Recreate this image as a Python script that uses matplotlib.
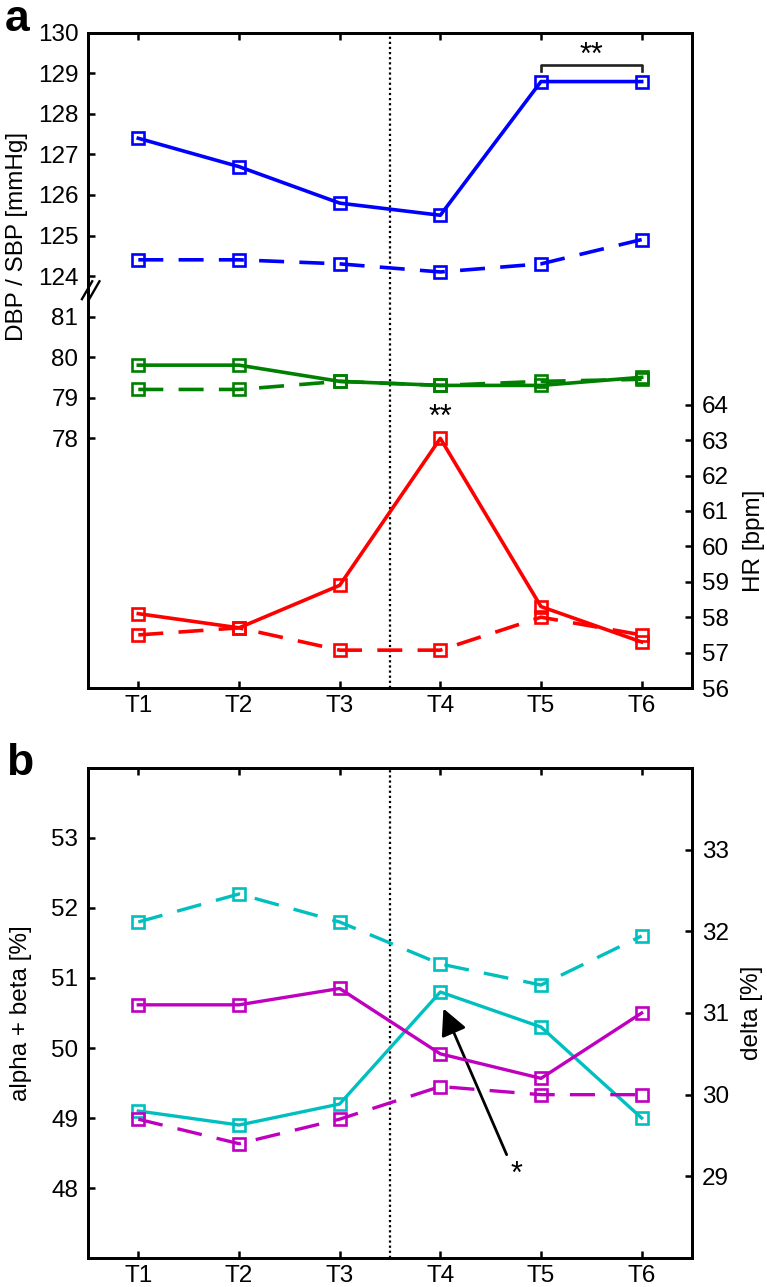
import matplotlib
matplotlib.use("Agg")
import matplotlib.pyplot as plt
import numpy as np

plt.rcParams["font.family"] = ["Liberation Sans", "DejaVu Sans"]
plt.rcParams["font.size"] = 17.5

# --- data ---
time_labels = ["T1", "T2", "T3", "T4", "T5", "T6"]

sbp_solid = [127.4, 126.7, 125.8, 125.5, 128.8, 128.8]
sbp_dashed = [124.4, 124.4, 124.3, 124.1, 124.3, 124.9]
dbp_solid = [79.8, 79.8, 79.4, 79.3, 79.3, 79.5]
dbp_dashed = [79.2, 79.2, 79.4, 79.3, 79.4, 79.45]
hr_solid = [58.1, 57.7, 58.9, 63.05, 58.3, 57.3]
hr_dashed = [57.5, 57.7, 57.07, 57.07, 58.0, 57.5]

ab_solid = [49.1, 48.9, 49.2, 50.8, 50.3, 49.0]
ab_dashed = [51.8, 52.2, 51.8, 51.2, 50.9, 51.6]
delta_solid = [31.1, 31.1, 31.3, 30.5, 30.2, 31.0]
delta_dashed = [29.7, 29.4, 29.7, 30.1, 30.0, 30.0]

dbp_ticks = [78, 79, 80, 81]
sbp_ticks = [124, 125, 126, 127, 128, 129, 130]
hr_ticks = [56, 57, 58, 59, 60, 61, 62, 63, 64]
ab_ticks = [48, 49, 50, 51, 52, 53]
delta_ticks = [29, 30, 31, 32, 33]

# SBP is drawn on the same axis as DBP, shifted down so 124 sits just above 81
SBP_SHIFT = 124 - 82

BLUE, GREEN, RED = "#0000FF", "#008000", "#FF0000"
CYAN, MAGENTA = "#00BFBF", "#BF00BF"
x = np.arange(1, len(time_labels) + 1)


def series(ax, y, color, dashed=False, lw=2.6):
    dash = (0, (18 / lw, 11 / lw))
    ax.plot(x, y, color=color, lw=lw, ls=dash if dashed else "-",
            marker="s", ms=8.5, mfc="none", mec=color, mew=1.9, zorder=3)


def style(ax, left=True, right=False):
    for s in ax.spines.values():
        s.set_linewidth(2.0)
    ax.tick_params(direction="in", length=5, width=1.8, top=True,
                   left=left, right=right, labelleft=left, labelright=right,
                   pad=7)
    ax.tick_params(axis="x", pad=5)


fig = plt.figure(figsize=(7.67, 12.87), dpi=100)

# ---------------- panel a ----------------
ax_a = fig.add_axes([0.1147, 0.4654, 0.7875, 0.5090])
ax_hr = ax_a.twinx()

series(ax_a, np.array(sbp_solid) - SBP_SHIFT, BLUE)
series(ax_a, np.array(sbp_dashed) - SBP_SHIFT, BLUE, dashed=True)
series(ax_a, dbp_solid, GREEN)
series(ax_a, dbp_dashed, GREEN, dashed=True)
series(ax_hr, hr_solid, RED)
series(ax_hr, hr_dashed, RED, dashed=True)

ax_a.set_xlim(0.5, 6.5)
ax_a.set_ylim(71.83, 88)
ax_a.set_yticks(dbp_ticks + [v - SBP_SHIFT for v in sbp_ticks])
ax_a.set_yticklabels([str(v) for v in dbp_ticks + sbp_ticks])
ax_a.set_xticks(x)
ax_a.set_xticklabels(time_labels)
ax_a.set_ylabel("DBP / SBP [mmHg]")
ax_a.yaxis.set_label_coords(-0.100, 0.69)
style(ax_a)

ax_hr.set_ylim(56, 74.5)
ax_hr.set_yticks(hr_ticks)
ax_hr.set_ylabel("HR [bpm]")
ax_hr.yaxis.set_label_coords(1.084, 0.224)
style(ax_hr, left=False, right=True)

ax_a.axvline(3.5, color="k", lw=1.6, ls=(0, (1, 1.3)), zorder=1)

# axis break marks "//" on the left spine
brk = ax_a.get_yaxis_transform()
for dx in (0.0, 0.012):
    ax_a.plot([-0.010 + dx, 0.007 + dx], [81.43, 81.87], color="k",
              lw=1.7, transform=brk, clip_on=False, zorder=5)

# significance marks
bracket_y = 129.21 - SBP_SHIFT
ax_a.plot([5, 5, 6, 6], [bracket_y - 0.15, bracket_y, bracket_y, bracket_y - 0.15],
          color="#222222", lw=1.9)
ax_a.text(5.5, bracket_y + 0.03, "**", ha="center", va="baseline", fontsize=22)
ax_hr.text(4, 63.4, "**", ha="center", va="baseline", fontsize=22)

fig.text(0.022, 0.985, "a", fontsize=32, fontweight="bold", ha="center", va="center")

# ---------------- panel b ----------------
ax_b = fig.add_axes([0.1147, 0.0225, 0.7875, 0.3808])
ax_d = ax_b.twinx()

series(ax_b, ab_solid, CYAN, lw=2.4)
series(ax_b, ab_dashed, CYAN, dashed=True, lw=2.4)
series(ax_d, delta_solid, MAGENTA, lw=2.4)
series(ax_d, delta_dashed, MAGENTA, dashed=True, lw=2.4)

ax_b.set_xlim(0.5, 6.5)
ax_b.set_ylim(47, 54)
ax_b.set_yticks(ab_ticks)
ax_b.set_xticks(x)
ax_b.set_xticklabels(time_labels)
ax_b.set_ylabel("alpha + beta [%]")
ax_b.yaxis.set_label_coords(-0.093, 0.5)
style(ax_b)

ax_d.set_ylim(28, 34)
ax_d.set_yticks(delta_ticks)
ax_d.set_ylabel("delta [%]")
ax_d.yaxis.set_label_coords(1.081, 0.5)
style(ax_d, left=False, right=True)

ax_b.axvline(3.5, color="k", lw=1.6, ls=(0, (1, 1.3)), zorder=1)

ax_b.annotate("", xy=(4.02, 50.6), xytext=(4.67, 48.44),
              arrowprops=dict(arrowstyle="-|>,head_length=0.8,head_width=0.4",
                              mutation_scale=20, lw=2.0, color="k"))
ax_b.text(4.76, 48.07, "*", ha="center", va="baseline", fontsize=22)

fig.text(0.026, 0.407, "b", fontsize=32, fontweight="bold", ha="center", va="center")

fig.savefig("out.png", dpi=100)
